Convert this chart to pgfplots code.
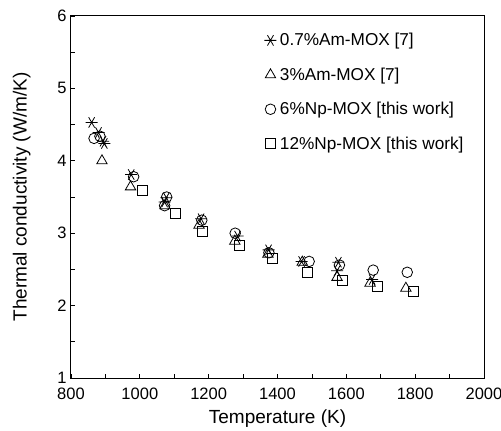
\documentclass[border=0pt]{standalone}
\usepackage{pgfplots}
\pgfplotsset{compat=1.18}
\usepackage{fontspec}
\setmainfont{Liberation Sans}
\begin{document}
\begin{tikzpicture}
\useasboundingbox (-71bp,-53bp) rectangle (430bp,378bp);
\begin{axis}[
  at={(0,0)}, anchor=south west,
  scale only axis, width=413bp, height=362bp,
  xmin=800, xmax=2000, ymin=1, ymax=6,
  xtick={800,1000,...,2000}, ytick={1,2,...,6},
  minor xtick={900,1100,...,1900}, minor ytick={1.5,2.5,...,5.5},
  xtick pos=left, ytick pos=left, tick align=inside,
  major tick length=4bp, minor tick length=4bp,
  every tick/.style={black, line width=0.8bp},
  axis line style={line width=1bp},
  /pgf/number format/assume math mode=true,
  /pgf/number format/1000 sep={},
  tick label style={font=\fontsize{16.5bp}{18bp}\selectfont},
  xticklabel style={yshift=-6bp},
  yticklabel style={xshift=-1bp},
  label style={font=\fontsize{19bp}{21bp}\selectfont},
  xlabel={Temperature (K)},
  ylabel={Thermal conductivity (W/m/K)},
  xlabel style={yshift=-4bp},
  ylabel style={yshift=20bp},
  legend style={draw=none, fill=none, at={(0.468,0.958)}, anchor=north west,
    font=\fontsize{17.2bp}{19bp}\selectfont, row sep=16.5bp, inner sep=0pt},
  legend cell align=left,
  legend image code/.code={\draw[#1] plot coordinates {(0.15cm,0cm)};},
  /tikz/every odd column/.style={column sep=1.5bp},
]
\addplot[only marks, mark=asterisk, mark size=6bp, mark options={rotate=90, line width=0.8bp}] coordinates {
(860,4.53) (880,4.39) (893,4.27) (897,4.24) (975,3.81) (1077,3.49) (1072,3.43)
(1178,3.20) (1284,2.96) (1374,2.77) (1470,2.61) (1577,2.60) (1573,2.48) (1675,2.36)};
\addlegendentry{0.7\%Am-MOX [7]}
\addplot[only marks, mark=triangle, mark size=6bp, mark options={line width=0.8bp}] coordinates {
(890,4.00) (973,3.64) (1073,3.38) (1172,3.11) (1276,2.89) (1372,2.71) (1472,2.60)
(1573,2.39) (1669,2.31) (1773,2.24)};
\addlegendentry{3\%Am-MOX [7]}
\addplot[only marks, mark=o, mark size=5.3bp, mark options={line width=0.8bp}] coordinates {
(867,4.31) (884,4.34) (982,3.78) (1078,3.50) (1072,3.38) (1180,3.18) (1277,3.00)
(1375,2.73) (1492,2.61) (1580,2.56) (1678,2.49) (1777,2.46)};
\addlegendentry{6\%Np-MOX [this work]}
\addplot[only marks, mark=square, mark size=5bp, mark options={line width=0.8bp}] coordinates {
(1008,3.59) (1102,3.28) (1183,3.03) (1290,2.83) (1385,2.65) (1487,2.46) (1588,2.35)
(1690,2.26) (1795,2.20)};
\addlegendentry{12\%Np-MOX [this work]}
\end{axis}
\end{tikzpicture}
\end{document}
